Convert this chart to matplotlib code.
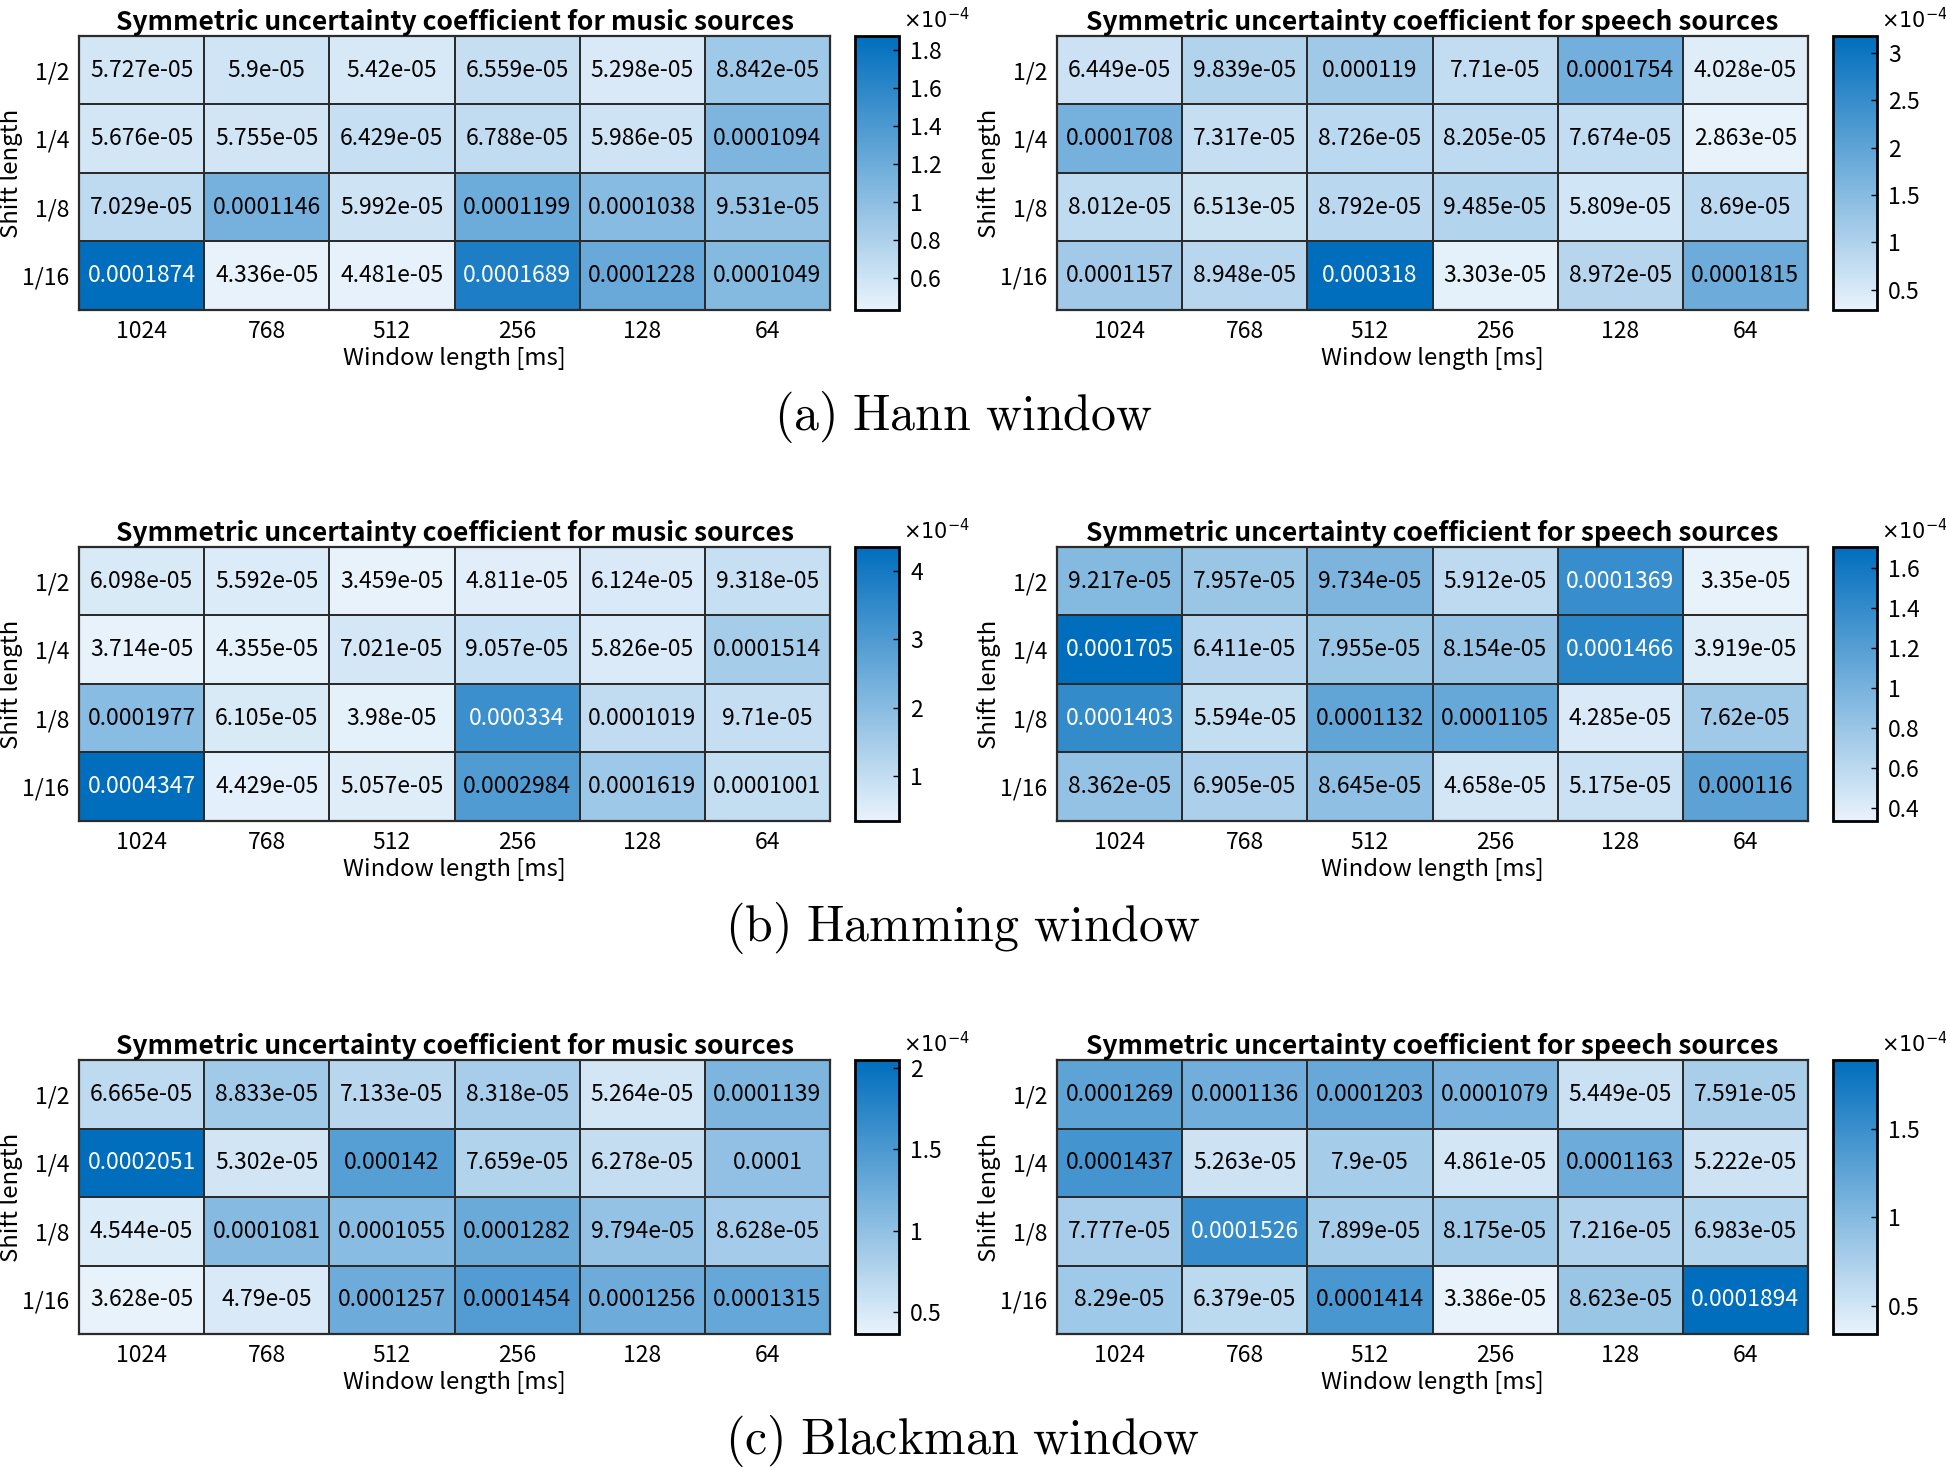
import numpy as np
import matplotlib
matplotlib.use("Agg")
import matplotlib.pyplot as plt
from matplotlib.colors import LinearSegmentedColormap, Normalize

plt.rcParams["font.family"] = ["Noto Sans CJK JP", "DejaVu Sans"]
plt.rcParams["mathtext.fontset"] = "cm"

window_lengths = ["1024", "768", "512", "256", "128", "64"]
shift_lengths = ["1/2", "1/4", "1/8", "1/16"]

hann_music = [
    [5.727e-05, 5.9e-05, 5.42e-05, 6.559e-05, 5.298e-05, 8.842e-05],
    [5.676e-05, 5.755e-05, 6.429e-05, 6.788e-05, 5.986e-05, 0.0001094],
    [7.029e-05, 0.0001146, 5.992e-05, 0.0001199, 0.0001038, 9.531e-05],
    [0.0001874, 4.336e-05, 4.481e-05, 0.0001689, 0.0001228, 0.0001049],
]
hann_speech = [
    [6.449e-05, 9.839e-05, 0.000119, 7.71e-05, 0.0001754, 4.028e-05],
    [0.0001708, 7.317e-05, 8.726e-05, 8.205e-05, 7.674e-05, 2.863e-05],
    [8.012e-05, 6.513e-05, 8.792e-05, 9.485e-05, 5.809e-05, 8.69e-05],
    [0.0001157, 8.948e-05, 0.000318, 3.303e-05, 8.972e-05, 0.0001815],
]
hamming_music = [
    [6.098e-05, 5.592e-05, 3.459e-05, 4.811e-05, 6.124e-05, 9.318e-05],
    [3.714e-05, 4.355e-05, 7.021e-05, 9.057e-05, 5.826e-05, 0.0001514],
    [0.0001977, 6.105e-05, 3.98e-05, 0.000334, 0.0001019, 9.71e-05],
    [0.0004347, 4.429e-05, 5.057e-05, 0.0002984, 0.0001619, 0.0001001],
]
hamming_speech = [
    [9.217e-05, 7.957e-05, 9.734e-05, 5.912e-05, 0.0001369, 3.35e-05],
    [0.0001705, 6.411e-05, 7.955e-05, 8.154e-05, 0.0001466, 3.919e-05],
    [0.0001403, 5.594e-05, 0.0001132, 0.0001105, 4.285e-05, 7.62e-05],
    [8.362e-05, 6.905e-05, 8.645e-05, 4.658e-05, 5.175e-05, 0.000116],
]
blackman_music = [
    [6.665e-05, 8.833e-05, 7.133e-05, 8.318e-05, 5.264e-05, 0.0001139],
    [0.0002051, 5.302e-05, 0.000142, 7.659e-05, 6.278e-05, 0.0001],
    [4.544e-05, 0.0001081, 0.0001055, 0.0001282, 9.794e-05, 8.628e-05],
    [3.628e-05, 4.79e-05, 0.0001257, 0.0001454, 0.0001256, 0.0001315],
]
blackman_speech = [
    [0.0001269, 0.0001136, 0.0001203, 0.0001079, 5.449e-05, 7.591e-05],
    [0.0001437, 5.263e-05, 7.9e-05, 4.861e-05, 0.0001163, 5.222e-05],
    [7.777e-05, 0.0001526, 7.899e-05, 8.175e-05, 7.216e-05, 6.983e-05],
    [8.29e-05, 6.379e-05, 0.0001414, 3.386e-05, 8.623e-05, 0.0001894],
]

# colorbar ticks, in units of 1e-4
hann_music_ticks = [0.6, 0.8, 1, 1.2, 1.4, 1.6, 1.8]
hann_speech_ticks = [0.5, 1, 1.5, 2, 2.5, 3]
hamming_music_ticks = [1, 2, 3, 4]
hamming_speech_ticks = [0.4, 0.6, 0.8, 1, 1.2, 1.4, 1.6]
blackman_music_ticks = [0.5, 1, 1.5, 2]
blackman_speech_ticks = [0.5, 1, 1.5]

captions = ["(a) Hann window", "(b) Hamming window", "(c) Blackman window"]

cmap = LinearSegmentedColormap.from_list(
    "blues", [(0.91, 0.95, 0.985), (0.0, 0.43, 0.74)]
)

W, H = 1946, 1468
fig = plt.figure(figsize=(W / 100, H / 100), dpi=100)


def draw_heatmap(ax, cax, values, ticks, title):
    data = np.array(values)
    norm = Normalize(vmin=data.min(), vmax=data.max())
    mesh = ax.pcolormesh(
        data, cmap=cmap, norm=norm,
        edgecolors="#2b2b2b", linewidth=1.3,
    )
    ax.set_xlim(0, data.shape[1])
    ax.set_ylim(data.shape[0], 0)
    for i in range(data.shape[0]):
        for j in range(data.shape[1]):
            v = data[i, j]
            color = "white" if norm(v) > 0.72 else "black"
            ax.text(j + 0.5, i + 0.5, f"{v:.4g}", ha="center", va="center",
                    fontsize=16.5, color=color)
    ax.set_xticks(np.arange(data.shape[1]) + 0.5, window_lengths)
    ax.set_yticks(np.arange(data.shape[0]) + 0.5, shift_lengths)
    ax.tick_params(length=0, labelsize=16.5, pad=7)
    for s in ax.spines.values():
        s.set_color("#2b2b2b")
        s.set_linewidth(1.6)
    ax.set_xlabel("Window length [ms]", fontsize=17.2, labelpad=3)
    ax.set_ylabel("Shift length", fontsize=17.2)
    ax.yaxis.set_label_coords(-0.075, 0.5)
    ax.set_title(title, fontsize=19, fontweight="bold", pad=2)

    cbar = fig.colorbar(mesh, cax=cax)
    cbar.set_ticks([t * 1e-4 for t in ticks], labels=[f"{t:g}" for t in ticks])
    cbar.ax.tick_params(direction="in", length=4, width=1, labelsize=16.5,
                        pad=8)
    cbar.outline.set_linewidth(2)
    cbar.outline.set_edgecolor("black")
    cax.text(1.08, 1.01, r"$\times10^{-4}$", transform=cax.transAxes,
             fontsize=15, ha="left", va="bottom",
             math_fontfamily="dejavusans")


rows = [
    (hann_music, hann_music_ticks, hann_speech, hann_speech_ticks),
    (hamming_music, hamming_music_ticks, hamming_speech, hamming_speech_ticks),
    (blackman_music, blackman_music_ticks, blackman_speech, blackman_speech_ticks),
]
row_tops = [36, 547, 1060]
caption_y = [417, 928, 1441]
row_h = 274

for r, (music, mticks, speech, sticks) in enumerate(rows):
    bottom = 1 - (row_tops[r] + row_h) / H
    h = row_h / H
    ax1 = fig.add_axes([79 / W, bottom, 751 / W, h])
    cax1 = fig.add_axes([855 / W, bottom, 44 / W, h])
    ax2 = fig.add_axes([1057 / W, bottom, 751 / W, h])
    cax2 = fig.add_axes([1833 / W, bottom, 44 / W, h])
    draw_heatmap(ax1, cax1, music, mticks,
                 "Symmetric uncertainty coefficient for music sources")
    draw_heatmap(ax2, cax2, speech, sticks,
                 "Symmetric uncertainty coefficient for speech sources")
    label = captions[r].replace(" ", r"\ ")
    fig.text(963 / W, 1 - caption_y[r] / H, r"$\mathrm{" + label + "}$",
             ha="center", va="center", fontsize=36)

fig.savefig("out.png", dpi=100)
